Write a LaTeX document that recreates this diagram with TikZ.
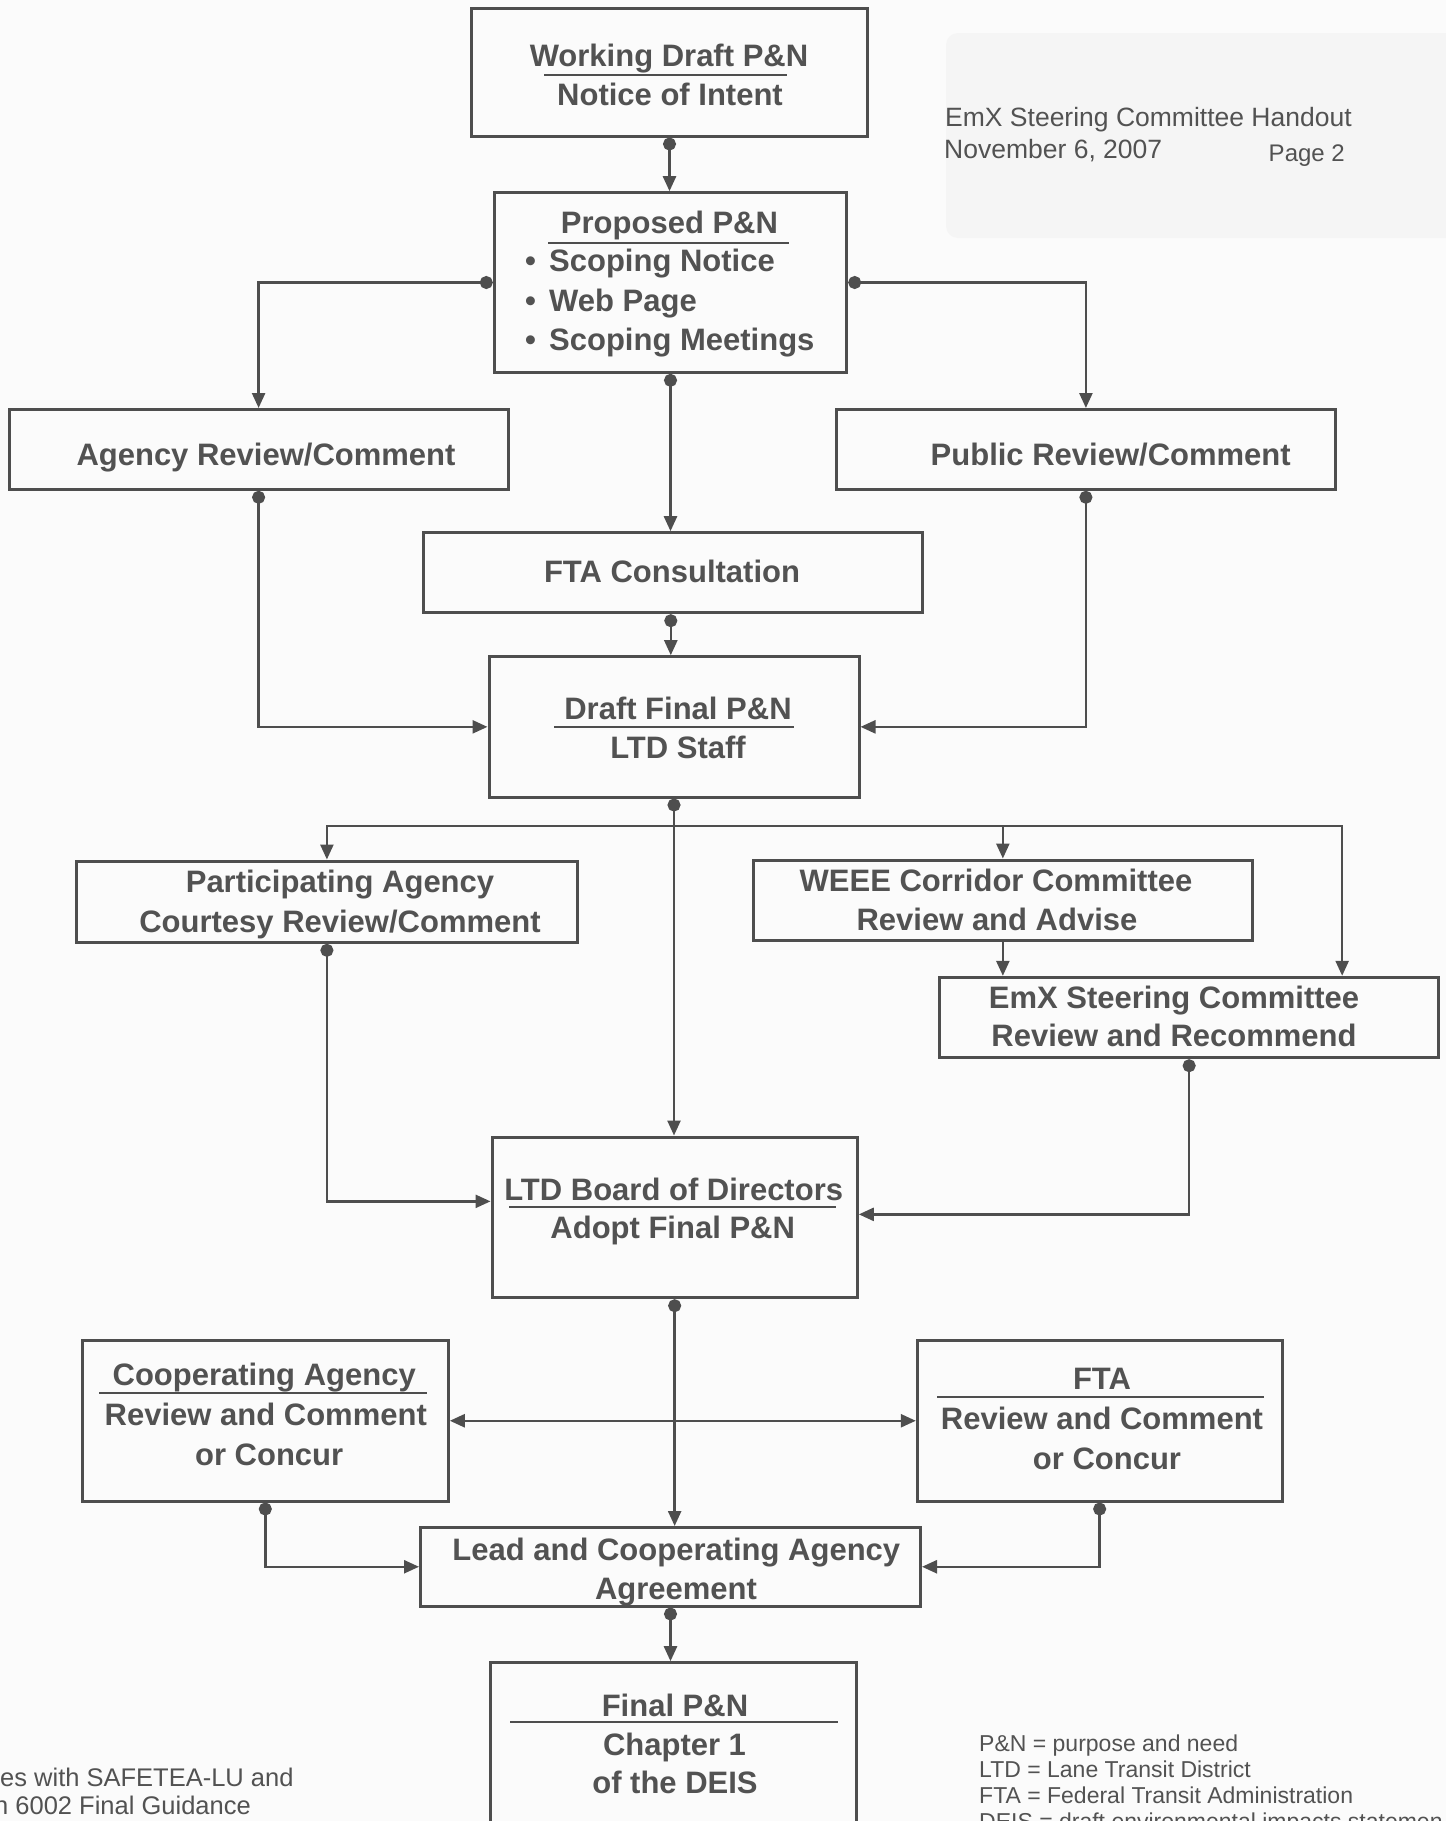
\documentclass[tikz,border=0pt]{standalone}
\usepackage{fontspec}
\setmainfont{Liberation Sans}
\usetikzlibrary{arrows.meta,calc}
\definecolor{lc}{RGB}{78,78,78}
\definecolor{tc}{RGB}{82,82,82}
\definecolor{bg}{RGB}{251,251,251}
\definecolor{patch}{RGB}{245,245,245}
\begin{document}
\begin{tikzpicture}[x=1pt,y=-1pt,
  box/.style={draw=lc, line width=3pt, inner sep=0pt, rectangle},
  lbl/.style={text=tc, font=\bfseries\fontsize{31}{37}\selectfont, inner sep=0pt, anchor=base},
  lblw/.style={lbl, anchor=base west},
  note/.style={text=tc, font=\fontsize{23}{28}\selectfont, inner sep=0pt, anchor=base west},
  bignote/.style={note, font=\fontsize{25.5}{30}\selectfont},
  hdr/.style={text=tc, font=\fontsize{26.5}{32}\selectfont, inner sep=0pt, anchor=base west},
  uline/.style={draw=lc, line width=1.8pt},
  tip/.tip={Triangle[length=15pt,width=13pt]},
  conn/.style={draw=lc, line width=2.5pt, {Circle[length=13pt]}-tip},
  arr/.style={draw=lc, line width=2.5pt, -tip},
  dbl/.style={draw=lc, line width=2.5pt, tip-tip}]
\clip (0,0) rectangle (1446,1821);
\fill[bg] (0,0) rectangle (1446,1821);
\fill[patch, rounded corners=12pt] (946,33) rectangle (1460,238);

% header
\node[hdr] (h1) at (945,126) {EmX Steering Committee Handout};
\node[hdr] (h2) at (944,158) {November 6, 2007};
\node[hdr, anchor=base east, font=\fontsize{24}{30}\selectfont] (h3) at (1345,161) {Page 2};

% boxes
\node[box, minimum width=396pt, minimum height=127.5pt] (wd) at (669.5,72.25) {};
\node[box, minimum width=352.4pt, minimum height=179.6pt] (pp) at (670.5,282.5) {};
\node[box, minimum width=498.8pt, minimum height=79.8pt] (ag) at (258.6,449.4) {};
\node[box, minimum width=498.9pt, minimum height=79.8pt] (pu) at (1085.9,449.4) {};
\node[box, minimum width=498.9pt, minimum height=80pt] (fc) at (672.8,572.7) {};
\node[box, minimum width=370pt, minimum height=140.3pt] (df) at (674,726.85) {};
\node[box, minimum width=500.8pt, minimum height=81.3pt] (pa) at (326.9,901.65) {};
\node[box, minimum width=498.9pt, minimum height=80.7pt] (we) at (1002.85,900.35) {};
\node[box, minimum width=498.9pt, minimum height=80.4pt] (ex) at (1189.15,1017.5) {};
\node[box, minimum width=365.3pt, minimum height=160.7pt] (lb) at (674.65,1217.35) {};
\node[box, minimum width=366pt, minimum height=160.5pt] (ca) at (265.3,1420.75) {};
\node[box, minimum width=364.7pt, minimum height=160.5pt] (ft) at (1099.65,1420.75) {};
\node[box, minimum width=500pt, minimum height=78.5pt] (le) at (670.5,1566.75) {};
\node[box, minimum width=366pt, minimum height=159.3pt] (fi) at (673.7,1742.35) {};

% box texts
\node[lbl] (wd1) at (669,66) {Working Draft P\&N};
\draw[uline] (544,75) -- (787,75);
\node[lbl] (wd2) at (670,105) {Notice of Intent};

\node[lbl] (pp1) at (669.5,233.5) {Proposed P\&N};
\draw[uline] (548,243) -- (789,243);
\node[lblw] (pp2) at (525,271) {\makebox[24pt][l]{•}Scoping Notice};
\node[lblw] (pp3) at (525,311) {\makebox[24pt][l]{•}Web Page};
\node[lblw] (pp4) at (525,350) {\makebox[24pt][l]{•}Scoping Meetings};

\node[lbl] (ag1) at (266,465) {Agency Review/Comment};
\node[lbl] (pu1) at (1110.7,465) {Public Review/Comment};
\node[lbl] (fc1) at (672,582.7) {FTA Consultation};

\node[lbl] (df1) at (678,719.3) {Draft Final P\&N};
\draw[uline] (554,727.3) -- (794,727.3);
\node[lbl] (df2) at (678,758) {LTD Staff};

\node[lbl] (pa1) at (340,892) {Participating Agency};
\node[lbl] (pa2) at (340,932) {Courtesy Review/Comment};
\node[lbl] (we1) at (996,891) {WEEE Corridor Committee};
\node[lbl] (we2) at (997,930) {Review and Advise};
\node[lbl] (ex1) at (1174,1008.3) {EmX Steering Committee};
\node[lbl] (ex2) at (1174,1046.7) {Review and Recommend};

\node[lbl] (lb1) at (673.7,1200) {LTD Board of Directors};
\draw[uline] (509,1207.3) -- (836,1207.3);
\node[lbl] (lb2) at (672.7,1238.5) {Adopt Final P\&N};

\node[lbl] (ca1) at (264.2,1385) {Cooperating Agency};
\draw[uline] (99,1392.7) -- (426.7,1392.7);
\node[lbl] (ca2) at (265.8,1425) {Review and Comment};
\node[lbl] (ca3) at (269.2,1465) {or Concur};

\node[lbl] (ft1) at (1102,1389) {FTA};
\draw[uline] (937,1397) -- (1263.6,1397);
\node[lbl] (ft2) at (1102,1429) {Review and Comment};
\node[lbl] (ft3) at (1107,1469) {or Concur};

\node[lbl] (le1) at (676.3,1560) {Lead and Cooperating Agency};
\node[lbl] (le2) at (676,1599) {Agreement};

\node[lbl] (fi1) at (675,1716) {Final P\&N};
\draw[uline] (510,1722) -- (837.7,1722);
\node[lbl] (fi2) at (674.5,1755.5) {Chapter 1};
\node[lbl] (fi3) at (675,1793.3) {of the DEIS};

% connectors
\draw[conn] (wd.south) -- (wd.south |- pp.north);
\draw[conn] (pp.west) -| (ag.north);
\draw[conn] (pp.east) -| (pu.north);
\draw[conn] (pp.south) -- (pp.south |- fc.north);
\draw[conn] ([xshift=-2pt]fc.south) -- ([xshift=-2pt]fc.south |- df.north);
\draw[conn] (ag.south) |- (df.west);
\draw[conn] (pu.south) |- (df.east);
\draw[conn] (df.south) -- (df.south |- lb.north);
\coordinate (bus) at (674,826);
\draw[arr] (bus) -| (pa.north);
\draw[arr] (bus) -| (we.north);
\draw[arr] (bus) -| ([xshift=153pt]ex.north);
\draw[arr] (we.south) -- (we.south |- ex.north);
\draw[conn] (pa.south) |- ([yshift=16pt]lb.west);
\draw[conn] (ex.south) |- ([yshift=3pt]lb.east);
\draw[conn] (lb.south) -- (lb.south |- le.north);
\draw[dbl] (ca.east) -- (ft.west);
\draw[conn] (ca.south) |- (le.west);
\draw[conn] (ft.south) |- (le.east);
\draw[conn] (le.south) -- (le.south |- fi.north);

% footnotes
\node[bignote] (n1) at (0,1786.7) {es with SAFETEA-LU and};
\node[bignote] (n2) at (-6,1814) {n 6002 Final Guidance};
\node[note] (g1) at (979,1751.7) {P\&N = purpose and need};
\node[note] (g2) at (979,1777.7) {LTD = Lane Transit District};
\node[note] (g3) at (979,1803.3) {FTA = Federal Transit Administration};
\node[note] (g4) at (979,1829) {DEIS = draft environmental impacts statemen};
\end{tikzpicture}
\end{document}
